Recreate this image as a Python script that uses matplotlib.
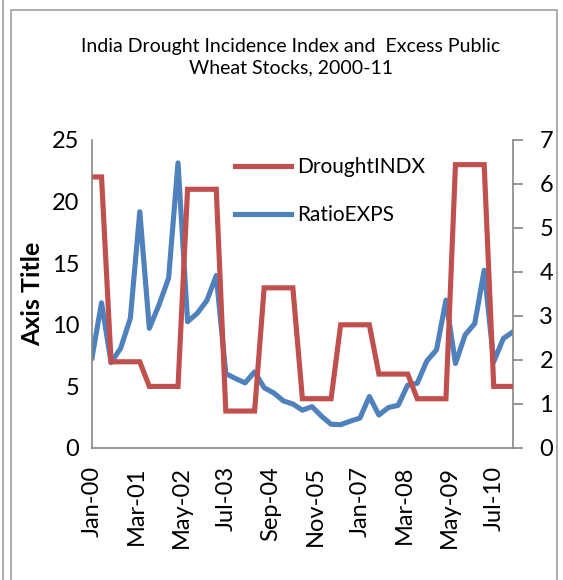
import matplotlib
matplotlib.use("Agg")
import matplotlib.pyplot as plt
import pandas as pd
from matplotlib.lines import Line2D

# ---- data ----
dates = pd.date_range("2000-01-01", periods=45, freq="QS")
drought_indx = [22, 22,
                7, 7, 7, 7,
                5, 5, 5, 5,
                21, 21, 21, 21,
                3, 3, 3, 3,
                13, 13, 13, 13,
                4, 4, 4, 4,
                10, 10, 10, 10,
                6, 6, 6, 6,
                4, 4, 4, 4,
                23, 23, 23, 23,
                5, 5, 5]
ratio_exps = [2.05, 3.30, 1.94, 2.27, 2.95, 5.37, 2.72, 3.25, 3.86, 6.48,
              2.87, 3.06, 3.35, 3.92, 1.69, 1.58, 1.48, 1.73, 1.37, 1.25,
              1.07, 1.00, 0.86, 0.94, 0.72, 0.54, 0.53, 0.61, 0.68, 1.17,
              0.75, 0.92, 0.97, 1.43, 1.47, 1.98, 2.23, 3.36, 1.92, 2.57,
              2.83, 4.04, 1.96, 2.49, 2.64]
xtick_labels = ["Jan-00", "Mar-01", "May-02", "Jul-03", "Sep-04",
                "Nov-05", "Jan-07", "Mar-08", "May-09", "Jul-10"]
left_ticks = [0, 5, 10, 15, 20, 25]
right_ticks = [0, 1, 2, 3, 4, 5, 6, 7]
title = "India Drought Incidence Index and  Excess Public\nWheat Stocks, 2000-11"

RED = "#C0504D"
BLUE = "#4F81BD"
GRAY = "#868686"
FONT = "Lato"

W, H = 563, 580
fig = plt.figure(figsize=(W / 100, H / 100), dpi=100)
fig.patch.set_facecolor("white")

# outer frame lines
fig.add_artist(Line2D([3 / W, 3 / W], [0, 1], transform=fig.transFigure,
                      color="#A0A0A0", lw=1.2))
fig.add_artist(Line2D([11 / W, 11 / W, 557 / W, 557 / W],
                      [0, 1 - 10 / H, 1 - 10 / H, 0], transform=fig.transFigure,
                      color="#A0A0A0", lw=1.2))

left, right, top, bottom = 92, 513, 140, 448
ax = fig.add_axes([left / W, 1 - bottom / H, (right - left) / W, (bottom - top) / H])
ax2 = ax.twinx()
ax.set_zorder(ax2.get_zorder() + 1)
ax.patch.set_visible(False)

l1, = ax.plot(dates, drought_indx, color=RED, lw=3.7, solid_joinstyle="miter",
              label="DroughtINDX")
l2, = ax2.plot(dates, ratio_exps, color=BLUE, lw=3.7, solid_joinstyle="round",
               label="RatioEXPS")

ax.set_xlim(dates[0], dates[-1])
ax.set_ylim(0, 25)
ax2.set_ylim(0, 7)
ax.set_yticks(left_ticks)
ax2.set_yticks(right_ticks)

tick_pos = pd.to_datetime(xtick_labels, format="%b-%y")
ax.set_xticks(tick_pos)
ax.set_xticklabels(xtick_labels, rotation=90, fontsize=17, family=FONT)
ax.set_yticklabels([str(t) for t in left_ticks], fontsize=17, family=FONT)
ax2.set_yticklabels([str(t) for t in right_ticks], fontsize=17, family=FONT)

for a in (ax, ax2):
    a.spines["top"].set_visible(False)
    for s in a.spines.values():
        s.set_color(GRAY)
        s.set_linewidth(1.2)
ax.spines["right"].set_visible(False)
ax2.spines["left"].set_visible(False)
ax2.spines["bottom"].set_visible(False)

ax.tick_params(axis="y", length=0, pad=9)
ax.tick_params(axis="x", length=0, pad=13)
ax2.tick_params(axis="y", length=7, width=1.2, color=GRAY, pad=12, direction="out")

ax.set_ylabel("Axis Title", fontsize=18, fontweight="bold", family=FONT, labelpad=6)

fig.text(291 / W, 1 - 57 / H, title, ha="center", va="center", fontsize=14,
         family=FONT, linespacing=1.35)

leg = ax.legend(handles=[l1, l2], loc="upper left",
                bbox_to_anchor=(235 / W, 1 - 157 / H), bbox_transform=fig.transFigure,
                frameon=False, prop={"family": FONT, "size": 15},
                handlelength=2.7, handletextpad=0.3, labelspacing=1.35,
                borderpad=0, borderaxespad=0)

fig.savefig("out.png", dpi=100, facecolor="white")
